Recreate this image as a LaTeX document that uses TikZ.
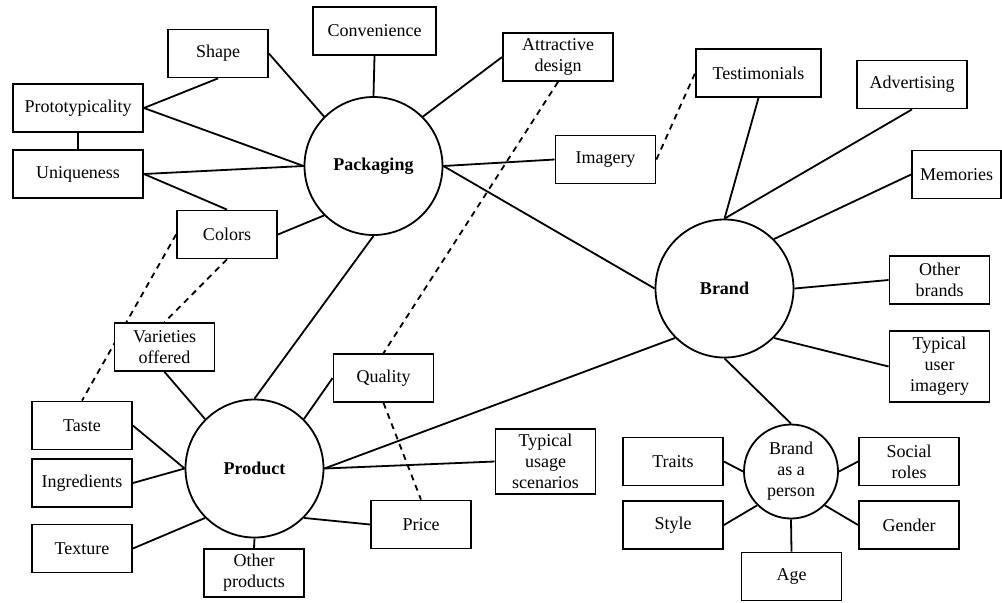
\documentclass[tikz,border=0pt]{standalone}
\usepackage{fontspec}
\setmainfont{Liberation Serif}
\usetikzlibrary{backgrounds}
\tikzset{
	item/.style={draw,fill=white,line width=0.9pt,minimum width=50pt,minimum height=24pt,inner sep=1pt,align=center,font=\fontsize{9pt}{10.5pt}\selectfont},
	hub/.style={circle,draw,fill=white,line width=0.9pt,minimum size=69pt,inner sep=0pt,align=center,font=\fontsize{9pt}{10.5pt}\selectfont\bfseries},
	link/.style={line width=0.9pt},
	hint/.style={line width=0.9pt,dash pattern=on 3pt off 2.5pt}
}
\begin{document}
\begin{tikzpicture}[x=0.5pt,y=-0.5pt]
	\useasboundingbox (0,0) rectangle (1002,602);
	\node [hub] (pack) at (373.5,166) {Packaging};
	\node [hub] (brand) at (724.5,288.5) {Brand};
	\node [hub] (prod) at (254.5,468.5) {Product};
	\node [hub,minimum size=47pt,font=\fontsize{9pt}{10.5pt}\selectfont] (person) at (791,471.5) {Brand\\as a\\person};
	\node [item] (shape) at (218,53.5) {Shape};
	\node [item,minimum width=61.5pt] (conv) at (374.5,31) {Convenience};
	\node [item,minimum width=65pt] (proto) at (78,108) {Prototypicality};
	\node [item,minimum width=65pt] (uniq) at (78,174) {Uniqueness};
	\node [item] (colors) at (227,234.5) {Colors};
	\node [item,minimum width=55pt] (attr) at (558,57) {Attractive\\design};
	\node [item,minimum width=62.5pt] (testi) at (758.5,73) {Testimonials};
	\node [item,minimum width=55pt] (adv) at (912,84.5) {Advertising};
	\node [item] (imag) at (605.5,159.5) {Imagery};
	\node [item,minimum width=44.5pt] (memo) at (956.5,174.5) {Memories};
	\node [item] (othb) at (939.5,280) {Other\\brands};
	\node [item,minimum height=35.5pt] (tui) at (939.5,366.5) {Typical\\user\\imagery};
	\node [item] (vari) at (164.5,347) {Varieties\\offered};
	\node [item] (taste) at (82,425.5) {Taste};
	\node [item] (ingr) at (82,483) {Ingredients};
	\node [item] (text) at (82,548.5) {Texture};
	\node [item] (othp) at (254,573) {Other\\products};
	\node [item] (qual) at (383.5,378) {Quality};
	\node [item,minimum height=32.5pt] (tus) at (545.5,461.5) {Typical\\usage\\scenarios};
	\node [item] (price) at (421,524.5) {Price};
	\node [item] (traits) at (673,461.5) {Traits};
	\node [item] (style) at (673,525) {Style};
	\node [item] (social) at (909,461.5) {Social\\roles};
	\node [item] (gender) at (909,525) {Gender};
	\node [item] (age) at (791.5,576.5) {Age};
	\begin{scope}[on background layer]
		\draw [link] (proto.east) -- (shape.south);
		\draw [link] (proto.east) -- (pack.west);
		\draw [link] (proto.south) -- (uniq.north);
		\draw [link] (uniq.east) -- (pack.west);
		\draw [link] (uniq.east) -- (colors.north);
		\draw [link] (shape.east) -- (pack.135);
		\draw [link] (conv.south) -- (pack.north);
		\draw [link] (attr.west) -- (pack.45);
		\draw [link] (colors.east) -- (pack.225);
		\draw [link] (pack.south) -- (prod.north);
		\draw [link] (pack.east) -- (imag.west);
		\draw [link] (pack.east) -- (brand.west);
		\draw [link] (testi.south) -- (brand.north);
		\draw [link] (adv.south) -- (brand.north);
		\draw [link] (memo.west) -- (brand.45);
		\draw [link] (othb.west) -- (brand.east);
		\draw [link] (tui.west) -- (brand.-45);
		\draw [link] (brand.south) -- (person.north);
		\draw [link] (prod.east) -- (brand.225);
		\draw [link] (prod.east) -- (tus.west);
		\draw [link] (vari.south) -- (prod.135);
		\draw [link] (taste.east) -- (prod.west);
		\draw [link] (ingr.east) -- (prod.west);
		\draw [link] (text.east) -- (prod.225);
		\draw [link] (othp.north) -- (prod.south);
		\draw [link] (qual.west) -- (prod.45);
		\draw [link] (price.west) -- (prod.-45);
		\draw [link] (traits.east) -- (person.west);
		\draw [link] (style.east) -- (person.225);
		\draw [link] (social.west) -- (person.east);
		\draw [link] (gender.west) -- (person.-45);
		\draw [link] (age.north) -- (person.south);
		\draw [hint] (colors.west) -- (taste.north);
		\draw [hint] (colors.south) -- (vari.north);
		\draw [hint] (attr.south) -- (qual.north);
		\draw [hint] (qual.south) -- (price.north);
		\draw [hint] (imag.east) -- (testi.west);
	\end{scope}
\end{tikzpicture}
\end{document}
